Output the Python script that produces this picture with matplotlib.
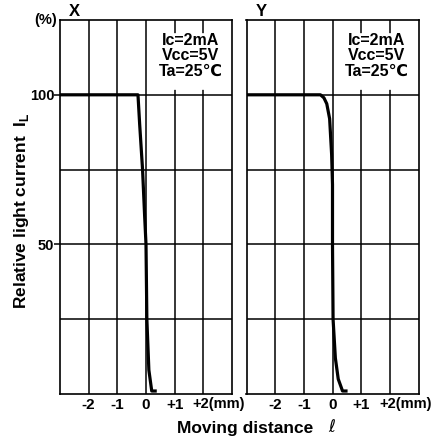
import matplotlib.pyplot as plt
from matplotlib.patches import Rectangle
from matplotlib.transforms import blended_transform_factory

plt.rcParams['font.family'] = ['Liberation Sans', 'DejaVu Sans']
plt.rcParams['font.weight'] = 'bold'

# curve X (distance mm, relative light current %)
x_dist = [-3, -0.28, -0.22, -0.12, -0.05, 0.0, 0.03, 0.1, 0.2, 0.32]
x_curr = [100, 100, 90, 75, 60, 50, 25, 8, 1, 1]

# curve Y
y_dist = [-3, -0.42, -0.3, -0.2, -0.1, -0.03, 0.0, 0.0, 0.02, 0.1, 0.2, 0.35, 0.47]
y_curr = [100, 100, 99, 97, 92, 80, 70, 50, 25, 12, 5, 1, 1]

xticks = [-2, -1, 0, 1]
xtick_labels = ['-2', '-1', '0', '+1']
yticks = [50, 100]
cond = 'Ic=2mA\nVcc=5V\nTa=25\u2103'

fig = plt.figure(figsize=(4.33, 4.42), dpi=100)
ax1 = fig.add_axes([60/433, 1-394/442, 172/433, 374/442])
ax2 = fig.add_axes([246.5/433, 1-394/442, 172/433, 374/442])

for ax, d, c, name in [(ax1, x_dist, x_curr, 'X'), (ax2, y_dist, y_curr, 'Y')]:
    ax.set_xlim(-3, 3)
    ax.set_ylim(0, 125)
    ax.vlines([-2, -1, 0, 1, 2], 0, 125, color='black', lw=1.1, zorder=1)
    ax.hlines([25, 50, 75, 100], -3, 3, color='black', lw=1.1, zorder=1)
    # white area behind the conditions text
    ax.add_patch(Rectangle((0.5, 102.0), 2.1, 18.5, facecolor='white',
                           edgecolor='white', lw=0.5, zorder=2.5))
    ax.plot(d, c, color='black', lw=2.3, zorder=3)
    ax.text(1.55, 113, cond, ha='center', va='center', fontsize=11.5,
            linespacing=1.05, zorder=5)
    for s in ax.spines.values():
        s.set_linewidth(1.2)
    ax.set_xticks(xticks)
    ax.set_xticklabels(xtick_labels, fontsize=11)
    ax.tick_params(axis='x', length=0, pad=3)
    tr = blended_transform_factory(ax.transData, ax.transAxes)
    ax.text(1.62, -0.009, '+2(mm)', transform=tr, ha='left', va='top', fontsize=10.5)
    ax.text(-2.5, 1.003, name, transform=tr, ha='center', va='bottom', fontsize=12)

ax1.set_yticks(yticks)
ax1.set_yticklabels(['50', '100'], fontsize=10.5)
ax1.tick_params(axis='y', length=4, width=1.1, pad=0)
ax2.set_yticks([])

ax1.text(-0.015, 1.0, '(%)', transform=ax1.transAxes, ha='right', va='center', fontsize=10.5)
ax1.set_ylabel('Relative light current  I$_\\mathregular{L}$', fontsize=12.5,
               fontweight='bold')
ax1.yaxis.set_label_coords(-0.17, 0.49)

fig.text(245/433, 1-429/442, 'Moving distance', ha='center', va='center', fontsize=12.5)
fig.text(332/433, 1-427/442, '\u2113', ha='center', va='center', fontsize=12,
         style='italic', fontweight='normal', family=['DejaVu Sans'])

fig.savefig('out.png', dpi=100)
